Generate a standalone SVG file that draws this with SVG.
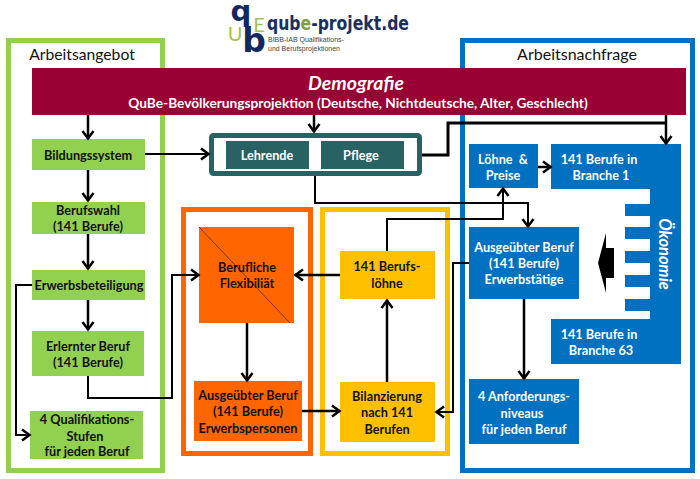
<svg xmlns="http://www.w3.org/2000/svg" width="700" height="479" viewBox="0 0 700 479">
<style>
text{font-family:Lato,"Liberation Sans",sans-serif;font-weight:700;font-size:12.7px;text-anchor:middle;fill:#111}
.w{fill:#fff}
.frame{fill:none;stroke-width:5}
.g{fill:#92d050}.o{fill:#ff6600}.y{fill:#ffc000}.b{fill:#0070c0}.t{fill:#286262}
.c{fill:none;stroke:#000;stroke-width:2.5;marker-end:url(#a)}
.n{stroke-width:2}
.h{font-size:15.7px;font-weight:400}
.lg{font-family:"DejaVu Sans",sans-serif;fill:#12285f}
.lu{font-size:20px;font-weight:400;fill:#a4c24a}
.ls{font-family:"Liberation Sans",sans-serif;font-size:7px;font-weight:400;fill:#444;text-anchor:start}
</style>
<defs>
<marker id="a" markerUnits="userSpaceOnUse" markerWidth="14" markerHeight="16" viewBox="-11 -8 14 16" refX="0" refY="0" orient="auto"><path d="M-8,-5.5L-0.5,0L-8,5.5" fill="none" stroke="#000" stroke-width="2.5"/></marker>
</defs>
<rect width="700" height="479" fill="#fff"/>
<g id="logo">
<text class="lg" x="241" y="21" style="font-size:29px">q</text>
<text class="lg" x="254" y="52" style="font-size:33px">b</text>
<text class="lu" x="235" y="41">U</text>
<text class="lu" x="259" y="32">E</text>
<text x="267" y="30" textLength="142" lengthAdjust="spacingAndGlyphs" style="font-family:'DejaVu Sans',sans-serif;font-size:19px;fill:#1b2f5f;text-anchor:start">qub<tspan fill="#7f9f3f">e</tspan>-projekt.de</text>
<text class="ls" x="268" y="42">BIBB-IAB Qualifikations-</text>
<text class="ls" x="268" y="51">und Berufsprojektionen</text>
</g>
<g id="arbeitsangebot"><rect class="frame" x="8.5" y="40.5" width="154" height="430" stroke="#92d050"/><text class="h" x="82" y="60">Arbeitsangebot</text></g>
<g id="arbeitsnachfrage"><rect class="frame" x="462.5" y="40.5" width="230" height="430" stroke="#0070c0"/><text class="h" x="577" y="60" style="font-size:16px">Arbeitsnachfrage</text></g>
<g id="orange-frame"><rect class="frame" x="183.5" y="209.5" width="127" height="244" stroke="#ff6600"/></g>
<g id="yellow-frame"><rect class="frame" x="322.5" y="209.5" width="125" height="244" stroke="#ffc000"/></g>
<g id="demografie"><rect x="32" y="68" width="654" height="47" fill="#990033"/>
<text class="w" x="356" y="90" style="font-size:19.5px;font-style:italic">Demografie</text>
<text class="w" x="358" y="108" style="font-size:13.7px">QuBe-Bevölkerungsprojektion (Deutsche, Nichtdeutsche, Alter, Geschlecht)</text></g>
<g id="bildungssystem"><rect class="g" x="32" y="139" width="113" height="31"/><text x="88" y="160">Bildungssystem</text></g>
<g id="berufswahl"><rect class="g" x="32" y="202" width="113" height="32"/><text x="88" y="215">Berufswahl</text><text x="88" y="231">(141 Berufe)</text></g>
<g id="erwerbsbeteiligung"><rect class="g" x="32" y="270" width="113" height="30"/><text x="89" y="290">Erwerbsbeteiligung</text></g>
<g id="erlernter-beruf"><rect class="g" x="32" y="331" width="112" height="45"/><text x="88" y="351">Erlernter Beruf</text><text x="88" y="367">(141 Berufe)</text></g>
<g id="qualifikationsstufen"><rect class="g" x="30" y="411" width="113" height="48"/><text x="87" y="424">4 Qualifikations-</text><text x="85" y="441">Stufen</text><text x="87" y="456">für jeden Beruf</text></g>
<g id="lehrende-pflege"><rect x="211.5" y="135.5" width="208" height="38" rx="2" fill="#fff" stroke="#286262" stroke-width="5"/>
<rect class="t" x="226" y="141" width="83" height="28"/><text class="w" x="267" y="160">Lehrende</text>
<rect class="t" x="321" y="141" width="83" height="28"/><text class="w" x="361" y="160">Pflege</text></g>
<g id="berufliche-flexibilitaet"><rect class="o" x="199" y="227" width="95" height="96"/><path d="M199,227L290,323" stroke="#7a3300" stroke-width="1"/><text x="247" y="272">Berufliche</text><text x="247" y="288">Flexibiliät</text></g>
<g id="ausgeuebter-beruf-o"><rect class="o" x="194" y="381" width="108" height="60"/><text x="248" y="400">Ausgeübter Beruf</text><text x="248" y="416">(141 Berufe)</text><text x="248" y="433">Erwerbspersonen</text></g>
<g id="berufsloehne"><rect class="y" x="340" y="251" width="95" height="48"/><text x="387" y="271">141 Berufs-</text><text x="387" y="288">löhne</text></g>
<g id="bilanzierung"><rect class="y" x="340" y="382" width="95" height="60"/><text x="387" y="401">Bilanzierung</text><text x="387" y="417">nach 141</text><text x="387" y="434">Berufen</text></g>
<g id="loehne-preise"><rect class="b" x="469" y="144" width="69" height="44"/><text class="w" x="503" y="164">Löhne &#160;&amp;</text><text class="w" x="503" y="180">Preise</text></g>
<g id="oekonomie"><path class="b" d="M551,144H681V364H551V319H650V311H625V299H650V287H625V275H650V263H625V251H650V239H625V227H650V216H625V204H650V189H551Z"/>
<text class="w" x="599" y="164">141 Berufe in</text><text class="w" x="601" y="180">Branche 1</text>
<text class="w" x="599" y="339">141 Berufe in</text><text class="w" x="601" y="355">Branche 63</text>
<text class="w" transform="translate(659,254) rotate(90)" style="font-size:16.5px;font-style:italic">Ökonomie</text></g>
<g id="ausgeuebter-beruf-b"><rect class="b" x="469" y="227" width="110" height="72"/><text class="w" x="524" y="252">Ausgeübter Beruf</text><text class="w" x="524" y="268">(141 Berufe)</text><text class="w" x="524" y="284">Erwerbstätige</text></g>
<g id="anforderungsniveaus"><rect class="b" x="469" y="379" width="110" height="65"/><text class="w" x="524" y="401">4 Anforderungs-</text><text class="w" x="522" y="418">niveaus</text><text class="w" x="524" y="434">für jeden Beruf</text></g>
<g id="connectors">
<path class="c" d="M88,115V139"/>
<path class="c" d="M314,115V132"/>
<path class="c" d="M666,115V144"/>
<path d="M422,155H448V123H666" fill="none" stroke="#000" stroke-width="3"/>
<path class="c n" d="M145,154H209"/>
<path class="c" d="M88,170V201"/>
<path class="c" d="M88,234V269"/>
<path class="c" d="M88,300V330"/>
<path class="c n" d="M32,285H16V435H30"/>
<path class="c n" d="M88,376V398H172V275H199"/>
<path class="c n" d="M315,176V203H528V227"/>
<path class="c n" d="M387,251V219H503V188"/>
<path class="c" d="M538,167H551"/>
<path class="c" d="M340,275H295"/>
<path class="c" d="M247,323V381"/>
<path class="c" d="M302,411H340"/>
<path class="c" d="M387,382V300"/>
<path class="c n" d="M469,263H453V412H436"/>
<path class="c" d="M524,299V379"/>
<path d="M598,263L606,233V248H614V278H606V293Z" fill="#000"/>
</g>
</svg>
